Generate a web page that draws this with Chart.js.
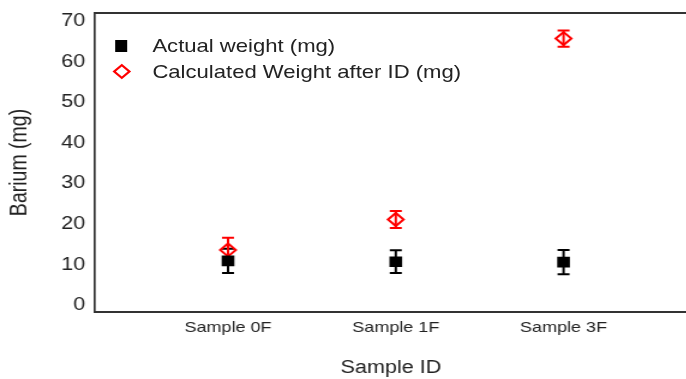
<!DOCTYPE html>
<html>
<head>
<meta charset="utf-8">
<script src="https://cdn.jsdelivr.net/npm/chart.js@4.4.1/dist/chart.umd.min.js"></script>
<style>
  html, body { margin: 0; padding: 0; background: #fff; overflow: hidden; }
  /* the source image is stretched horizontally, so the whole chart is drawn narrow and scaled */
  #wrap { position: relative; width: 581px; height: 379px; transform: scaleX(1.2); transform-origin: 0 0; }
  .leg { position: absolute; font-family: "Liberation Sans", Arial, sans-serif; font-size: 18.4px; line-height: 20px; color: #222; white-space: nowrap; }
  .sq { position: absolute; width: 10px; height: 12px; background: #000; }
  .dm { position: absolute; width: 7px; height: 7px; border: 2px solid #f00; transform: rotate(45deg); }
</style>
</head>
<body>
<div id="wrap">
  <canvas id="myChart" width="581" height="379"></canvas>
  <div class="sq" style="left:96px; top:40px;"></div>
  <div class="leg" style="left:127px; top:36px;">Actual weight (mg)</div>
  <div class="dm" style="left:96px; top:66px;"></div>
  <div class="leg" style="left:127px; top:62px;">Calculated Weight after ID (mg)</div>
</div>
<script>
const categories = ["Sample 0F", "Sample 1F", "Sample 3F"];
const actualWeight = [10.9, 10.7, 10.6];
const actualErr = [3.0, 2.8, 3.0];
const calcWeight = [13.6, 21.1, 65.7];
const calcErr = [3.0, 2.1, 2.0];
const yTicks = [0, 10, 20, 30, 40, 50, 60, 70];

const font = "'Liberation Sans', Arial, sans-serif";

function points(vals) {
    return vals.map((v, i) => ({ x: i + 1, y: v }));
}

// error bars, drawn through the chart's scales, under the markers
const errorBars = {
    id: 'errorBars',
    beforeDatasetsDraw(chart) {
        const ctx = chart.ctx;
        const xs = chart.scales.x;
        const ys = chart.scales.y;
        chart.data.datasets.forEach(ds => {
            ctx.save();
            ctx.strokeStyle = ds.errColor;
            ctx.lineWidth = 2;
            ds.data.forEach((p, i) => {
                const x = xs.getPixelForValue(p.x);
                const top = ys.getPixelForValue(p.y + ds.errors[i]);
                const bot = ys.getPixelForValue(p.y - ds.errors[i]);
                ctx.beginPath();
                ctx.moveTo(x, top); ctx.lineTo(x, bot);
                ctx.moveTo(x - 5, top); ctx.lineTo(x + 5, top);
                ctx.moveTo(x - 5, bot); ctx.lineTo(x + 5, bot);
                ctx.stroke();
            });
            ctx.restore();
        });
    }
};

// top frame line
const topLine = {
    id: 'topLine',
    afterDraw(chart) {
        const a = chart.chartArea;
        const ctx = chart.ctx;
        ctx.save();
        ctx.strokeStyle = '#333';
        ctx.lineWidth = 2;
        ctx.beginPath();
        ctx.moveTo(a.left - 1, a.top);
        ctx.lineTo(a.right, a.top);
        ctx.stroke();
        ctx.restore();
    }
};

const ctx = document.getElementById('myChart').getContext('2d');

const myChart = new Chart(ctx, {
    type: 'scatter',
    data: {
        datasets: [{
            label: 'Actual weight (mg)',
            data: points(actualWeight),
            errors: actualErr,
            errColor: '#000',
            pointStyle: 'rect',
            pointRadius: 7.5,
            pointHoverRadius: 7.5,
            backgroundColor: '#000',
            borderColor: '#000',
            borderWidth: 0
        }, {
            label: 'Calculated Weight after ID (mg)',
            data: points(calcWeight),
            errors: calcErr,
            errColor: '#f00',
            pointStyle: 'rectRot',
            pointRadius: 6.5,
            pointHoverRadius: 6.5,
            backgroundColor: 'rgba(255,255,255,0)',
            borderColor: '#f00',
            borderWidth: 2
        }]
    },
    options: {
        responsive: false,
        animation: false,
        layout: { padding: { top: 13, right: 0, bottom: 0, left: 0 } },
        plugins: {
            legend: { display: false },
            tooltip: { enabled: false }
        },
        scales: {
            x: {
                type: 'linear',
                min: 0.206,
                max: 3.736,
                afterBuildTicks: scale => {
                    scale.ticks = categories.map((c, i) => ({ value: i + 1 }));
                },
                afterFit: scale => { scale.height = 67; },
                grid: { display: false, drawTicks: false },
                border: { display: true, color: '#333', width: 2 },
                ticks: {
                    callback: (v) => categories[v - 1],
                    color: '#222',
                    padding: 7,
                    maxRotation: 0,
                    font: { family: font, size: 15 }
                },
                title: {
                    display: true,
                    text: 'Sample ID',
                    color: '#222',
                    padding: { top: 4, bottom: 0 },
                    font: { family: font, size: 18 }
                }
            },
            y: {
                min: -1.7,
                max: 72,
                afterBuildTicks: scale => {
                    scale.ticks = yTicks.map(v => ({ value: v }));
                },
                afterFit: scale => { scale.width = 79; },
                grid: { display: false, drawTicks: false },
                border: { display: true, color: '#333', width: 1.7 },
                ticks: {
                    color: '#222',
                    padding: 8,
                    font: { family: font, size: 18, lineHeight: 0.5 }
                },
                title: {
                    display: true,
                    text: 'Barium (mg)',
                    color: '#222',
                    padding: { top: 5, bottom: 0 },
                    font: { family: font, size: 19.5 }
                }
            }
        }
    },
    plugins: [errorBars, topLine]
});
</script>
</body>
</html>
